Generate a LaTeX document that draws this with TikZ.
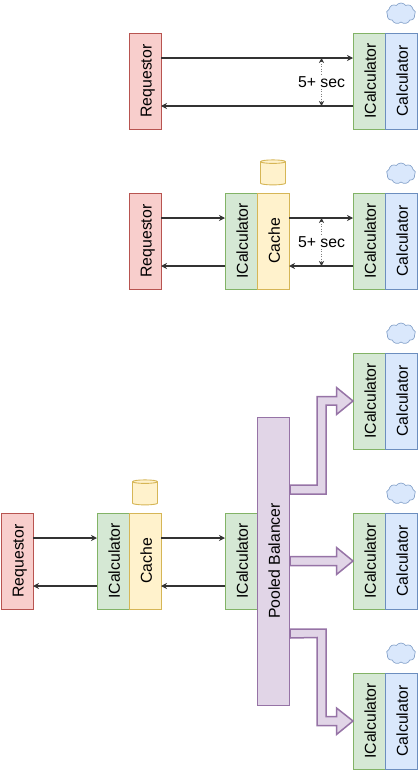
\documentclass[tikz,border=0pt]{standalone}
\usepackage{fontspec}
\setmainfont{Liberation Sans}
\usetikzlibrary{shapes.geometric, shapes.symbols, arrows.meta}
\definecolor{clrReq}{HTML}{F8CECC}
\definecolor{clrReqLine}{HTML}{B85450}
\definecolor{clrIface}{HTML}{D5E8D4}
\definecolor{clrIfaceLine}{HTML}{82B366}
\definecolor{clrCalc}{HTML}{DAE8FC}
\definecolor{clrCalcLine}{HTML}{6C8EBF}
\definecolor{clrCache}{HTML}{FFF2CC}
\definecolor{clrCacheLine}{HTML}{D6B656}
\definecolor{clrPool}{HTML}{E1D5E7}
\definecolor{clrPoolLine}{HTML}{9673A6}
\newcommand{\vtext}[1]{\rotatebox{90}{\rule[-3pt]{0pt}{19.5pt}#1}}
\tikzset{
  box/.style = {rectangle, minimum width=32pt, minimum height=96pt, inner sep=0pt,
                outer sep=0pt, line width=0.9pt, font=\fontsize{15.8}{18}\selectfont},
  requestor/.style = {box, draw=clrReqLine, fill=clrReq},
  iface/.style = {box, draw=clrIfaceLine, fill=clrIface},
  calc/.style = {box, draw=clrCalcLine, fill=clrCalc},
  cachebox/.style = {box, draw=clrCacheLine, fill=clrCache},
  pool/.style = {box, minimum height=288pt, draw=clrPoolLine, fill=clrPool},
  cloudy/.style = {cloud, cloud puffs=9, cloud puff arc=110, aspect=1.4, minimum width=29pt,
                   minimum height=21pt, inner sep=0pt, outer sep=0pt, draw=clrCalcLine!80,
                   fill=clrCalc, line width=0.7pt},
  store/.style = {cylinder, shape border rotate=90, aspect=0.7, minimum width=25pt,
                  minimum height=25pt, inner sep=0pt, outer sep=0pt, draw=clrCacheLine,
                  fill=clrCache, line width=0.9pt},
  arrow/.style = {-{Stealth[length=6pt, width=6pt]}, line width=1.6pt, draw=black!80},
  delay/.style = {{Stealth[length=5pt, width=5pt, black!80]}-{Stealth[length=5pt, width=5pt, black!80]},
                  dotted, line width=0.5pt, draw=black!50},
  delaytext/.style = {fill=white, inner sep=1pt, font=\fontsize{15.8}{18}\selectfont},
  flex/.style = {draw=clrPoolLine, fill=clrPool, line width=1.5pt, line join=miter},
}
\begin{document}
\begin{tikzpicture}[x=1pt, y=-1pt]
  \useasboundingbox (0,0) rectangle (419,771);
  % x-positions for each column center
  \def\colA{17}
  \def\colB{113}
  \def\colC{145}
  \def\colD{241}
  \def\colE{273}
  \def\colF{369}
  \def\colG{401}
  \def\yOne{81}
  \def\yTwo{241}
  \def\yThree{561}

  % --- Top row ---
  \node[requestor] at (\colC, \yOne) (R1) {\vtext{Requestor}};
  \node[iface] at (\colF, \yOne) (I1) {\vtext{ICalculator}};
  \node[calc]  at (\colG, \yOne) (C1) {\vtext{Calculator}};
  \node[cloudy] at (\colG, 13.5) (N1) {};
  \coordinate (D1a) at (321.5, 58);
  \coordinate (D1b) at (321.5, 106);
  \draw[arrow] ([yshift=23pt] R1.east) -- ([yshift=23pt] I1.west);
  \draw[arrow] ([yshift=-25pt] I1.west) -- ([yshift=-25pt] R1.east);
  \draw[delay] (D1a) -- node[delaytext] (T1) {5+ sec} (D1b);

  % --- Middle row ---
  \node[requestor] at (\colC, \yTwo) (R2) {\vtext{Requestor}};
  \node[iface]    at (\colD, \yTwo) (I2) {\vtext{ICalculator}};
  \node[cachebox] at (\colE, \yTwo) (K2) {\vtext{Cache}};
  \node[iface]    at (\colF, \yTwo) (I3) {\vtext{ICalculator}};
  \node[calc]     at (\colG, \yTwo) (C3) {\vtext{Calculator}};
  \node[store]  at (\colE, 173.5) (S2) {\phantom{x}};
  \node[cloudy] at (\colG, 173.5) (N3) {};
  \coordinate (D2a) at (321.5, 218);
  \coordinate (D2b) at (321.5, 266);
  \draw[arrow] ([yshift=23pt] R2.east) -- ([yshift=23pt] I2.west);
  \draw[arrow] ([yshift=-25pt] I2.west) -- ([yshift=-25pt] R2.east);
  \draw[arrow] ([yshift=23pt] K2.east) -- ([yshift=23pt] I3.west);
  \draw[arrow] ([yshift=-25pt] I3.west) -- ([yshift=-25pt] K2.east);
  \draw[delay] (D2a) -- node[delaytext] (T2) {5+ sec} (D2b);

  % --- Bottom row ---
  \node[requestor] at (\colA, \yThree) (R4) {\vtext{Requestor}};
  \node[iface]    at (\colB, \yThree) (I4) {\vtext{ICalculator}};
  \node[cachebox] at (\colC, \yThree) (K4) {\vtext{Cache}};
  \node[iface]    at (\colD, \yThree) (I5) {\vtext{ICalculator}};
  \node[pool]     at (\colE, \yThree) (PB) {\vtext{Pooled Balancer}};
  \node[store]  at (\colC, 493.5) (S4) {\phantom{x}};
  \draw[arrow] ([yshift=23pt] R4.east) -- ([yshift=23pt] I4.west);
  \draw[arrow] ([yshift=-25pt] I4.west) -- ([yshift=-25pt] R4.east);
  \draw[arrow] ([yshift=23pt] K4.east) -- ([yshift=23pt] I5.west);
  \draw[arrow] ([yshift=-25pt] I5.west) -- ([yshift=-25pt] K4.east);

  % --- Pool targets ---
  \node[iface] at (\colF, 401) (IA) {\vtext{ICalculator}};
  \node[calc]  at (\colG, 401) (CA) {\vtext{Calculator}};
  \node[cloudy] at (\colG, 333.5) (NA) {};
  \node[iface] at (\colF, \yThree) (IB) {\vtext{ICalculator}};
  \node[calc]  at (\colG, \yThree) (CB) {\vtext{Calculator}};
  \node[cloudy] at (\colG, 493.5) (NB) {};
  \node[iface] at (\colF, 721) (IC) {\vtext{ICalculator}};
  \node[calc]  at (\colG, 721) (CC) {\vtext{Calculator}};
  \node[cloudy] at (\colG, 653.5) (NC) {};

  % Fat arrows out of the balancer
  \draw[flex] ([xshift=1pt, yshift=76pt] PB.east) -- ++(27,0) -- ++(0,-88.5) -- ++(19.5,0) -- ++(0,-9)
    -- (IA.west) -- ++(-16.5,13.5) -- ++(0,-9.5) -- ++(-10.5,0) -- ++(0,89)
    -- ([xshift=1pt, yshift=67pt] PB.east) -- cycle;
  \draw[flex] ([xshift=1pt, yshift=4.5pt] PB.east) -- ++(46.5,0) -- ++(0,-9) -- (IB.west)
    -- ++(-16.5,13.5) -- ++(0,-9) -- ([xshift=1pt, yshift=-4.5pt] PB.east) -- cycle;
  \draw[flex] ([xshift=1pt, yshift=-68pt] PB.east) -- ++(36,0) -- ++(0,87.5) -- ++(10.5,0) -- ++(0,-8.5)
    -- (IC.west) -- ++(-16.5,13.5) -- ++(0,-9) -- ++(-19.5,0) -- ++(0,-88)
    -- ([xshift=1pt, yshift=-77pt] PB.east) -- cycle;
\end{tikzpicture}
\end{document}
